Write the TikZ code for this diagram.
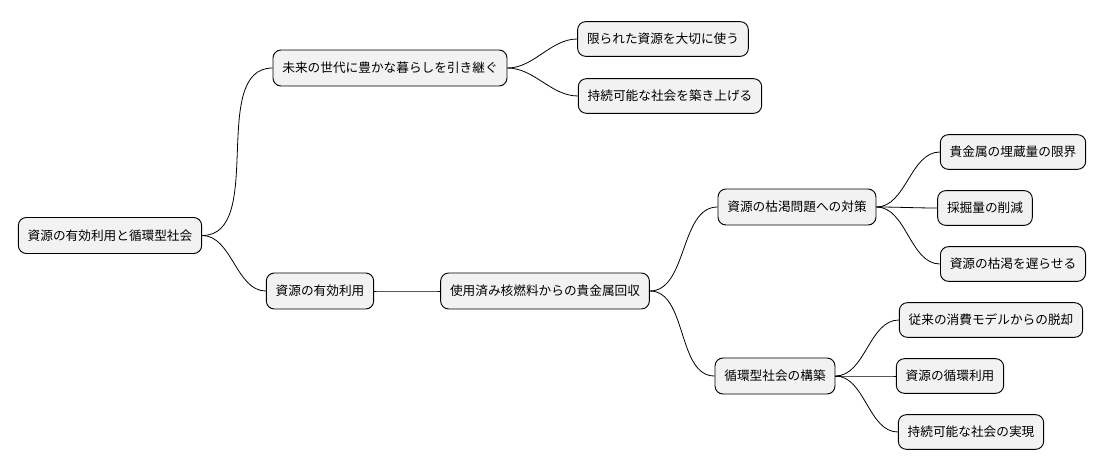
\documentclass[tikz,border=0pt]{standalone}
\usepackage{fontspec}
\setmainfont{Noto Sans CJK JP}
\usetikzlibrary{positioning}
\begin{document}
\begin{tikzpicture}[x=0.75pt, y=-0.75pt,
  topic/.style={draw, rounded corners=6pt, fill=black!5, line width=0.7pt,
    inner xsep=7pt, minimum height=27pt, font=\fontsize{9.5}{11}\selectfont},
  leaf/.style={topic, minimum height=26pt},
  branch/.style={line width=0.6pt, out=0, in=180, looseness=0.9}]
\useasboundingbox (0,0) rectangle (1104,471);
\node[topic](root) at (110,235.5){資源の有効利用と循環型社会};
\node[topic](fut) at (390,68){未来の世代に豊かな暮らしを引き継ぐ};
\node[leaf](fut1) at (663,39){限られた資源を大切に使う};
\node[leaf](fut2) at (670,96){持続可能な社会を築き上げる};
\node[topic](use) at (320,291){資源の有効利用};
\node[topic](rec) at (545,291){使用済み核燃料からの貴金属回収};
\node[topic](dep) at (797,207){資源の枯渇問題への対策};
\node[leaf](dep1) at (1013,152){貴金属の埋蔵量の限界};
\node[leaf](dep2) at (985,208){採掘量の削減};
\node[leaf](dep3) at (1013,264){資源の枯渇を遅らせる};
\node[topic](cyc) at (775,376){循環型社会の構築};
\node[leaf](cyc1) at (991,320){従来の消費モデルからの脱却};
\node[leaf](cyc2) at (950,376){資源の循環利用};
\node[leaf](cyc3) at (971,432){持続可能な社会の実現};
\draw[branch] (root.east) to (fut.west);
\draw[branch] (root.east) to (use.west);
\draw[branch] (fut.east) to (fut1.west);
\draw[branch] (fut.east) to (fut2.west);
\draw[branch] (use.east) to (rec.west);
\draw[branch] (rec.east) to (dep.west);
\draw[branch] (rec.east) to (cyc.west);
\draw[branch] (dep.east) to (dep1.west);
\draw[branch] (dep.east) to (dep2.west);
\draw[branch] (dep.east) to (dep3.west);
\draw[branch] (cyc.east) to (cyc1.west);
\draw[branch] (cyc.east) to (cyc2.west);
\draw[branch] (cyc.east) to (cyc3.west);
\end{tikzpicture}
\end{document}
